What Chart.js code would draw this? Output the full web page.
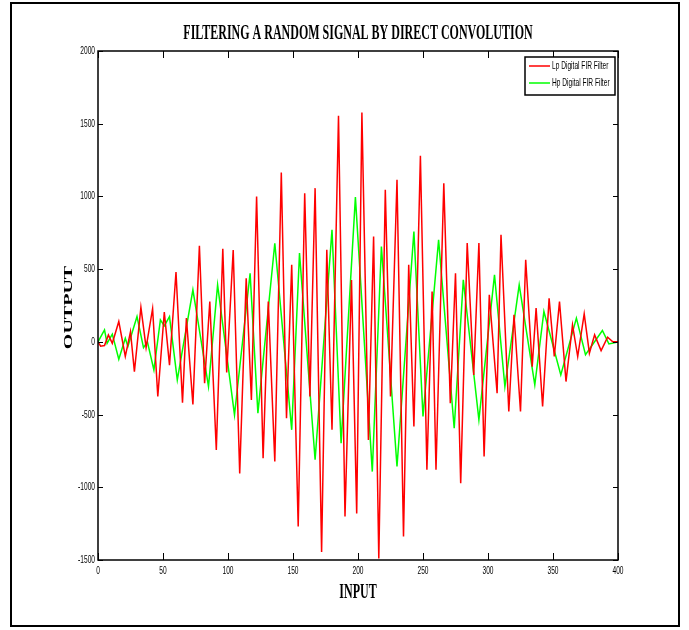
<!DOCTYPE html>
<html>
<head>
<meta charset="utf-8">
<script src="https://cdn.jsdelivr.net/npm/chart.js@4.4.1/dist/chart.umd.min.js"></script>
<style>
  html, body { margin: 0; padding: 0; background: #fff; }
  canvas { display: block; }
</style>
</head>
<body>
<canvas id="chart" width="689" height="630"></canvas>
<script>
// Values (sample index -> output)
const lpX = [0, 2, 5, 8, 11, 16, 21, 25, 28, 33, 37, 42, 46, 51, 55, 60, 65, 68, 73, 78,
    82, 86, 91, 96, 99, 104, 109, 114, 118, 122, 127, 131, 136, 141, 145, 149, 154, 159, 163, 167,
    172, 176, 180, 185, 190, 195, 199, 203, 208, 212, 216, 221, 225, 230, 235, 239, 243, 248, 253, 257,
    260, 266, 271, 275, 279, 284, 289, 293, 297, 301, 307, 310, 316, 320, 325, 329, 334, 337, 342, 347,
    351, 355, 360, 365, 369, 374, 378, 382, 387, 392, 396, 400];
const lpY = [0, -30, -25, 48, -10, 140, -100, 70, -205, 237, -40, 228, -376, 205, -160, 480, -418, 163, -430, 661,
    -284, 277, -744, 640, -210, 631, -905, 438, -399, 999, -800, 277, -823, 1165, -525, 530, -1270, 1022, -376, 1057,
    -1445, 633, -605, 1554, -1201, 426, -1180, 1577, -674, 724, -1490, 1045, -376, 1114, -1339, 530, -582, 1279, -880, 346,
    -880, 1091, -422, 472, -972, 679, -227, 679, -789, 323, -353, 736, -479, 186, -479, 564, -170, 232, -445, 300,
    -101, 277, -273, 117, -101, 192, -78, 48, -60, 32, 0, 0];

const hpX = [0, 5, 7, 11, 16, 21, 23, 30, 35, 38, 43, 48, 51, 55, 61, 73, 85, 92, 105, 117,
    123, 136, 149, 155, 167, 180, 187, 198, 211, 218, 230, 243, 250, 262, 274, 281, 293, 305, 313, 324,
    336, 343, 356, 368, 375, 388, 393, 400];
const hpY = [0, 82, -10, 53, -119, 25, -32, 174, -40, 0, -193, 151, 110, 174, -261, 358, -307, 392, -502, 472,
    -490, 678, -605, 610, -811, 770, -697, 995, -892, 656, -857, 759, -513, 701, -594, 426, -536, 461, -307, 392,
    -296, 209, -227, 163, -89, 78, -14, 0];

const xTicks = [0, 50, 100, 150, 200, 250, 300, 350, 400];
const yTicks = [-1500, -1000, -500, 0, 500, 1000, 1500, 2000];

const seriesNames = ['Lp Digital FIR Filter', 'Hp Digital FIR Filter'];
const seriesColors = ['#ff0000', '#00ff00'];

const chartTitle = 'FILTERING A RANDOM SIGNAL BY DIRECT CONVOLUTION';
const xTitle = 'INPUT';
const yTitle = 'OUTPUT';

// the figure is squeezed horizontally, so text gets a x-scale
const SQ = 0.6;

function squishText(ctx, text, x, y, font, align, baseline) {
    ctx.save();
    ctx.font = font;
    ctx.fillStyle = '#000';
    ctx.textAlign = align;
    ctx.textBaseline = baseline;
    ctx.translate(x, y);
    ctx.scale(SQ, 1);
    ctx.fillText(text, 0, 0);
    ctx.restore();
}

const matlabFrame = {
    id: 'matlabFrame',
    beforeDraw(chart) {
        const ctx = chart.ctx;
        ctx.save();
        ctx.fillStyle = '#fff';
        ctx.fillRect(0, 0, chart.width, chart.height);
        ctx.restore();
    },
    afterDraw(chart) {
        const ctx = chart.ctx;
        const area = chart.chartArea;
        const xs = chart.scales.x;
        const ys = chart.scales.y;

        ctx.save();
        // axes box
        ctx.strokeStyle = '#000';
        ctx.lineWidth = 1.5;
        ctx.strokeRect(area.left, area.top, area.right - area.left, area.bottom - area.top);

        // inward ticks on all four sides
        ctx.lineWidth = 1;
        ctx.beginPath();
        xs.ticks.forEach(t => {
            const px = Math.round(xs.getPixelForValue(t.value)) + 0.5;
            ctx.moveTo(px, area.bottom);
            ctx.lineTo(px, area.bottom - 7);
            ctx.moveTo(px, area.top);
            ctx.lineTo(px, area.top + 7);
        });
        ys.ticks.forEach(t => {
            const py = Math.round(ys.getPixelForValue(t.value)) + 0.5;
            ctx.moveTo(area.left, py);
            ctx.lineTo(area.left + 5, py);
            ctx.moveTo(area.right, py);
            ctx.lineTo(area.right - 5, py);
        });
        ctx.stroke();
        ctx.restore();

        // tick labels
        const tickFont = '11px "Liberation Sans", Arial, sans-serif';
        xs.ticks.forEach(t => {
            squishText(ctx, String(t.value), xs.getPixelForValue(t.value), area.bottom + 5, tickFont, 'center', 'top');
        });
        ys.ticks.forEach(t => {
            squishText(ctx, String(t.value), area.left - 3, ys.getPixelForValue(t.value), tickFont, 'right', 'middle');
        });

        // titles
        const cx = (area.left + area.right) / 2;
        squishText(ctx, chartTitle, cx, 39, 'bold 20px "Liberation Serif", "Times New Roman", serif', 'center', 'alphabetic');
        squishText(ctx, xTitle, cx, 598, 'bold 20px "Liberation Serif", "Times New Roman", serif', 'center', 'alphabetic');

        ctx.save();
        ctx.font = 'bold 20px "Liberation Serif", "Times New Roman", serif';
        ctx.fillStyle = '#000';
        ctx.textAlign = 'center';
        ctx.textBaseline = 'middle';
        ctx.translate(69, (area.top + area.bottom) / 2 + 2);
        ctx.scale(SQ, 1);
        ctx.rotate(-Math.PI / 2);
        ctx.fillText(yTitle, 0, 0);
        ctx.restore();

        // legend box, top right inside the axes
        const lx = 525, ly = 57, lw = 90, lh = 38;
        ctx.save();
        ctx.fillStyle = '#fff';
        ctx.fillRect(lx, ly, lw, lh);
        ctx.strokeStyle = '#000';
        ctx.lineWidth = 1.5;
        ctx.strokeRect(lx, ly, lw, lh);
        chart.data.datasets.forEach((ds, i) => {
            const yy = ly + 9 + i * 17;
            ctx.strokeStyle = ds.borderColor;
            ctx.lineWidth = 1.5;
            ctx.beginPath();
            ctx.moveTo(lx + 4, yy);
            ctx.lineTo(lx + 25, yy);
            ctx.stroke();
            squishText(ctx, ds.label, lx + 27, yy, '11px "Liberation Sans", Arial, sans-serif', 'left', 'middle');
        });
        ctx.restore();

        // outer figure frame
        ctx.save();
        ctx.strokeStyle = '#000';
        ctx.lineWidth = 2;
        ctx.strokeRect(11, 3, 668, 623);
        ctx.restore();
    }
};

function toPoints(xArr, yArr) {
    return xArr.map((x, i) => ({ x: x, y: yArr[i] }));
}

new Chart(document.getElementById('chart').getContext('2d'), {
    type: 'line',
    data: {
        datasets: [
            {
                label: seriesNames[0],
                data: toPoints(lpX, lpY),
                borderColor: seriesColors[0],
                borderWidth: 1.5,
                pointRadius: 0,
                tension: 0,
                fill: false
            },
            {
                label: seriesNames[1],
                data: toPoints(hpX, hpY),
                borderColor: seriesColors[1],
                borderWidth: 1.5,
                pointRadius: 0,
                tension: 0,
                fill: false
            }
        ]
    },
    options: {
        responsive: false,
        animation: false,
        devicePixelRatio: 1,
        layout: { padding: { left: 0, top: 51, right: 71, bottom: 0 } },
        plugins: {
            legend: { display: false },
            title: { display: false },
            tooltip: { enabled: false }
        },
        scales: {
            x: {
                type: 'linear',
                min: 0,
                max: 400,
                afterBuildTicks: s => { s.ticks = xTicks.map(v => ({ value: v })); },
                afterFit: s => { s.height = 70; },
                ticks: { display: false },
                grid: { display: false, drawTicks: false },
                border: { display: false }
            },
            y: {
                type: 'linear',
                min: -1500,
                max: 2000,
                afterBuildTicks: s => { s.ticks = yTicks.map(v => ({ value: v })); },
                afterFit: s => { s.width = 98; },
                ticks: { display: false },
                grid: { display: false, drawTicks: false },
                border: { display: false }
            }
        }
    },
    plugins: [matlabFrame]
});
</script>
</body>
</html>
